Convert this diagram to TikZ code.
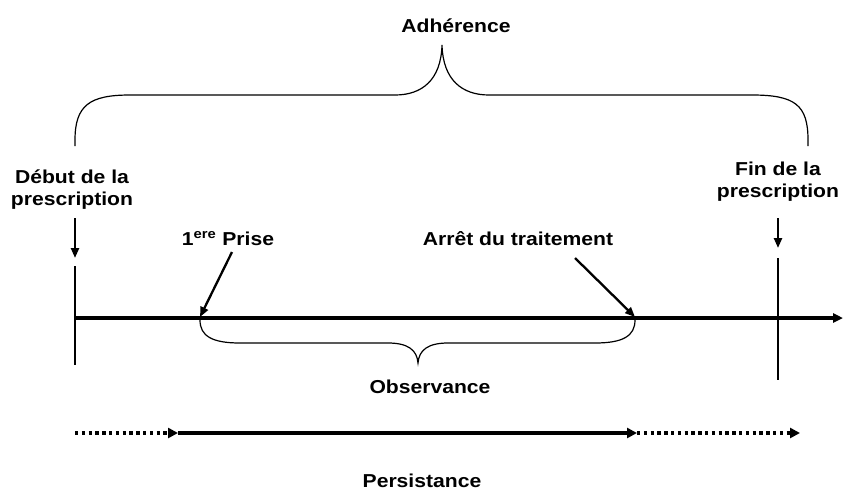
\documentclass[tikz,border=0pt]{standalone}
\usepackage{fontspec}
\setmainfont{Liberation Sans}[FakeStretch=1.13]
\usetikzlibrary{arrows.meta}

\begin{document}
\begin{tikzpicture}[x=1pt,y=-1pt,
    lbl/.style={inner sep=0pt, align=center, anchor=base,
      font=\fontsize{18.7}{22}\selectfont\bfseries},
    axis/.style={line width=3.6pt, -{Triangle[length=10pt,width=9pt]}},
    tick/.style={line width=2.7pt},
    pointer/.style={line width=2.3pt, -{Triangle[length=10pt,width=8pt]}},
    brace/.style={line width=1.2pt},
    span/.style={line width=3.4pt, -{Triangle[length=10pt,width=10pt]}},
    dotline/.style={span, dash pattern=on 3.4pt off 3.4pt}]

  \useasboundingbox (0,0) rectangle (843,491);

  % labels (base = baseline of the last line)
  \node[lbl] (adh) at (456,32) {Adhérence};
  \node[lbl] (debut) at (72,205) {Début de la\\prescription};
  \node[lbl] (fin) at (778,197) {Fin de la\\prescription};
  \node[lbl] (prise) at (228,245) {1\textsuperscript{ere} Prise};
  \node[lbl] (arret) at (518,245) {Arrêt du traitement};
  \node[lbl] (obs) at (430,393) {Observance};
  \node[lbl] (pers) at (422,487) {Persistance};

  % key points on the time axis
  \coordinate (a0) at (75,318);
  \coordinate (a1) at (843,318);
  \coordinate (p1) at (200,317);
  \coordinate (p2) at (635,317);
  \coordinate (d0) at (75,218);
  \coordinate (d1) at (75,258);
  \coordinate (f0) at (778,218);
  \coordinate (f1) at (778,248);
  \coordinate (s0) at (232,252);
  \coordinate (s1) at (575,258);

  % time axis with start and end marks
  \draw[axis] (a0) -- (a1);
  \draw[tick] (75,266) -- (75,365);
  \draw[tick] (778,258) -- (778,380);

  % pointers from the labels
  \draw[pointer] (d0) -- (d1);
  \draw[pointer] (f0) -- (f1);
  \draw[pointer] (s0) -- (p1);
  \draw[pointer] (s1) -- (p2);

  % upper brace: adherence
  \draw[brace] (75,146) -- (75,140)
      .. controls (75,105) and (90,95) .. (130,95) -- (395,95)
      .. controls (422,95) and (441,80) .. (442,45)
      .. controls (443,80) and (462,95) .. (489,95) -- (752,95)
      .. controls (795,95) and (808,105) .. (808,140) -- (808,146);

  % lower brace: observance
  \draw[brace] (200,320)
      .. controls (200,336) and (212,343) .. (240,343) -- (388,343)
      .. controls (408,343) and (417,350) .. (418,363)
      .. controls (419,350) and (428,343) .. (448,343) -- (595,343)
      .. controls (623,343) and (635,336) .. (635,320);

  % persistence: before, during and after the treatment
  \coordinate (q0) at (75,433);
  \coordinate (q1) at (178,433);
  \coordinate (q2) at (637,433);
  \coordinate (q3) at (800,433);
  \draw[dotline] (q0) -- (q1);
  \draw[span] (q1) -- (q2);
  \draw[dotline] (q2) -- (q3);
\end{tikzpicture}
\end{document}
